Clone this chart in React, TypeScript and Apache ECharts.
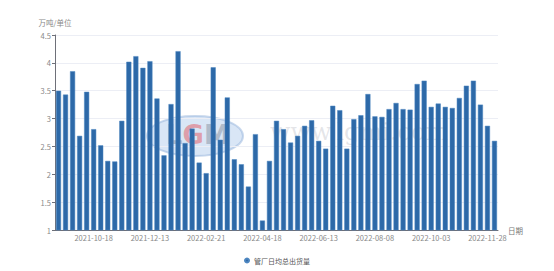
import React, { useEffect, useRef } from "react";
import * as echarts from "echarts";

// Weekly report dates (Spring Festival weeks skipped)
const dates: string[] = [
  "2021-09-13", "2021-09-20", "2021-09-27", "2021-10-04", "2021-10-11", "2021-10-18",
  "2021-10-25", "2021-11-01", "2021-11-08", "2021-11-15", "2021-11-22", "2021-11-29",
  "2021-12-06", "2021-12-13", "2021-12-20", "2021-12-27", "2022-01-03", "2022-01-10",
  "2022-01-17", "2022-01-24", "2022-02-14", "2022-02-21", "2022-02-28", "2022-03-07",
  "2022-03-14", "2022-03-21", "2022-03-28", "2022-04-04", "2022-04-11", "2022-04-18",
  "2022-04-25", "2022-05-02", "2022-05-09", "2022-05-16", "2022-05-23", "2022-05-30",
  "2022-06-06", "2022-06-13", "2022-06-20", "2022-06-27", "2022-07-04", "2022-07-11",
  "2022-07-18", "2022-07-25", "2022-08-01", "2022-08-08", "2022-08-15", "2022-08-22",
  "2022-08-29", "2022-09-05", "2022-09-12", "2022-09-19", "2022-09-26", "2022-10-03",
  "2022-10-10", "2022-10-17", "2022-10-24", "2022-10-31", "2022-11-07", "2022-11-14",
  "2022-11-21", "2022-11-28", "2022-12-05",
];

// 管厂日均总出货量 (万吨)
const shipments: number[] = [
  3.5, 3.43, 3.85, 2.69, 3.48, 2.81, 2.52, 2.24, 2.23, 2.96, 4.02, 4.12, 3.91, 4.03,
  3.36, 2.34, 3.26, 4.21, 2.56, 2.82, 2.21, 2.02, 3.92, 2.62, 3.38, 2.27, 2.18, 1.78,
  2.72, 1.17, 2.24, 2.96, 2.81, 2.57, 2.69, 2.87, 2.97, 2.6, 2.46, 3.23, 3.15, 2.46,
  2.99, 3.06, 3.44, 3.04, 3.03, 3.17, 3.28, 3.17, 3.16, 3.62, 3.68, 3.21, 3.27, 3.21,
  3.19, 3.37, 3.59, 3.68, 3.25, 2.87, 2.6,
];

const seriesName = "管厂日均总出货量";
const yName = "万吨/单位";
const xName = "日期";

const FONT = "'Noto Sans CJK SC', 'Noto Sans', sans-serif";
const showEvery8 = (idx: number) => idx % 8 === 5;

export default function App() {
  const ref = useRef<HTMLDivElement>(null);

  useEffect(() => {
    if (!ref.current) return;
    const chart = echarts.init(ref.current, null, { renderer: "svg" });
    chart.setOption({
      animation: false,
      backgroundColor: "#ffffff",
      textStyle: { fontFamily: FONT },
      grid: { left: 55, right: 56, top: 35, bottom: 41, containLabel: false },
      graphic: [
        {
          type: "ellipse",
          z: -10,
          shape: { cx: 195, cy: 136, rx: 48, ry: 20 },
          style: { fill: "rgba(170,200,235,0.45)", stroke: "rgba(150,180,220,0.5)", lineWidth: 2 },
        },
        {
          type: "text",
          z: -9,
          x: 166,
          y: 122,
          style: {
            text: "{a|L}{b|G}{a|M}",
            fontSize: 26,
            fontWeight: "bold",
            fontFamily: "DejaVu Sans",
            rich: {
              a: { fontSize: 26, fontWeight: "bold", fontFamily: "DejaVu Sans", fill: "rgba(140,150,165,0.55)" },
              b: { fontSize: 26, fontWeight: "bold", fontFamily: "DejaVu Sans", fill: "rgba(225,110,120,0.6)" },
            },
          },
        },
        {
          type: "text",
          z: -9,
          x: 270,
          y: 120,
          style: {
            text: "www.lgmi.com",
            fontSize: 24,
            fontFamily: "DejaVu Serif",
            fill: "rgba(160,165,175,0.28)",
          },
        },
      ],
      legend: {
        bottom: 2,
        left: "center",
        icon: "circle",
        itemWidth: 4,
        itemHeight: 4,
        itemGap: 4,
        textStyle: { fontSize: 7, color: "#555" },
        data: [seriesName],
      },
      xAxis: {
        type: "category",
        data: dates,
        name: xName,
        nameGap: 10,
        nameTextStyle: { fontSize: 7.5, color: "#777", verticalAlign: "middle" },
        axisLine: { lineStyle: { color: "#6E7079" } },
        axisTick: { interval: showEvery8, length: 3, lineStyle: { color: "#6E7079" } },
        axisLabel: { interval: showEvery8, fontSize: 7.5, color: "#888", margin: 4 },
      },
      yAxis: {
        type: "value",
        min: 1,
        max: 4.5,
        interval: 0.5,
        name: yName,
        nameGap: 9,
        nameTextStyle: { fontSize: 7.5, color: "#888" },
        axisLine: { show: true, lineStyle: { color: "#6E7079" } },
        axisTick: { show: true, length: 3, lineStyle: { color: "#6E7079" } },
        axisLabel: { fontSize: 7.5, color: "#888", margin: 4 },
        splitLine: { lineStyle: { color: "#eceef5" } },
      },
      series: [
        {
          name: seriesName,
          type: "bar",
          data: shipments,
          barCategoryGap: "28%",
          itemStyle: { color: "#2d69a8", borderColor: "#4d86c0", borderWidth: 0.5 },
        },
      ],
    });
    return () => chart.dispose();
  }, []);

  return (
    <div
      ref={ref}
      style={{ position: "fixed", left: 0, top: 0, width: 554, height: 271 }}
    />
  );
}
